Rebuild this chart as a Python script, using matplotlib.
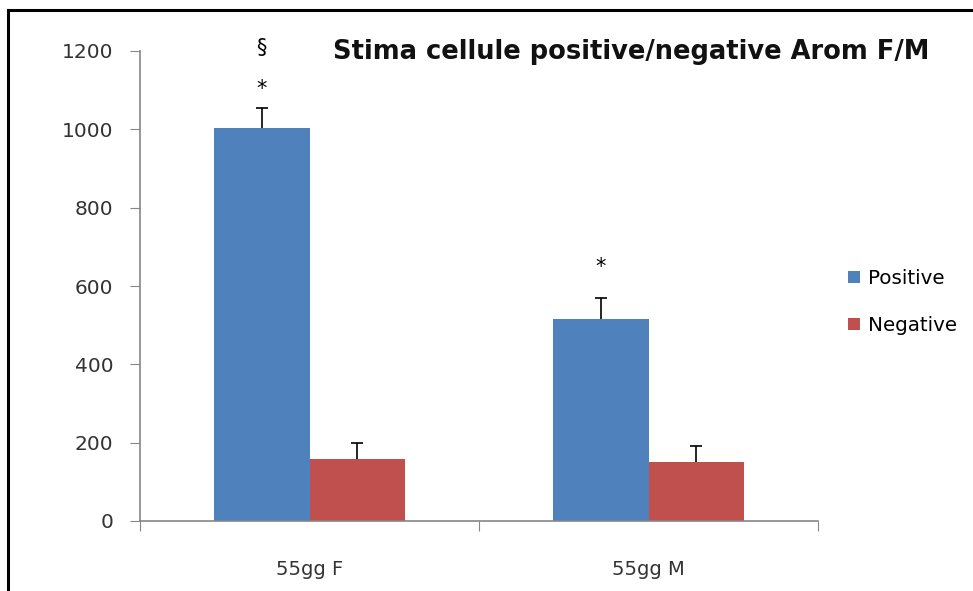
import numpy as np
import matplotlib
matplotlib.use("Agg")
import matplotlib.pyplot as plt
from matplotlib.lines import Line2D

# data
groups = ["55gg F", "55gg M"]
positive = [1004, 517]
negative = [158, 151]
positive_err = [51, 52]
negative_err = [40, 41]
marks = [["§", "*"], ["*"]]

blue = "#4F81BD"
red = "#C0504D"
axis_grey = "#868686"

fig = plt.figure(figsize=(9.73, 5.91), dpi=100)
ax = fig.add_axes([140/973, 1-521/591, (818-140)/973, (521-51)/591])

x = np.arange(len(groups))
w = 0.283

b1 = ax.bar(x - w/2, positive, w, color=blue, label="Positive",
            yerr=[np.zeros(len(x)), positive_err], capsize=4.5,
            error_kw=dict(ecolor="black", elinewidth=1.2, capthick=1.2))
b2 = ax.bar(x + w/2, negative, w, color=red, label="Negative",
            yerr=[np.zeros(len(x)), negative_err], capsize=4.5,
            error_kw=dict(ecolor="black", elinewidth=1.2, capthick=1.2))
# only the upper cap is shown
for b in (b1, b2):
    b.errorbar.lines[1][0].set_visible(False)

# significance marks above the positive bars
for i in range(len(groups)):
    top = positive[i] + positive_err[i]
    if len(marks[i]) == 2:
        ax.text(x[i] - w/2, top + 47, marks[i][1], ha="center", va="center",
                fontsize=15, clip_on=False)
        ax.text(x[i] - w/2, top + 153, marks[i][0], ha="center", va="center",
                fontsize=15, clip_on=False)
    else:
        ax.text(x[i] - w/2, top + 80, marks[i][0], ha="center", va="center",
                fontsize=15, clip_on=False)

ax.set_xlim(-0.5, 1.5)
ax.set_ylim(0, 1200)
ax.set_yticks(np.arange(0, 1201, 200))
ax.set_xticks([-0.5, 0.5, 1.5])
ax.set_xticklabels([])
ax.set_xticks(x, minor=True)
ax.set_xticklabels(groups, minor=True)
ax.tick_params(axis="x", which="minor", length=0, pad=28, labelsize=14, colors="#333333")
ax.tick_params(axis="x", which="major", length=7, color=axis_grey, direction="out")
ax.tick_params(axis="y", length=7, color=axis_grey, labelsize=14.5, labelcolor="#333333", pad=12)

for s in ["top", "right"]:
    ax.spines[s].set_visible(False)
for s in ["left", "bottom"]:
    ax.spines[s].set_color(axis_grey)
    ax.spines[s].set_linewidth(1.2)

fig.text(333/973, 1-52/591, "Stima cellule positive/negative Arom F/M",
         fontsize=18.5, fontweight="bold", va="center", ha="left", color="#111111")

fig.legend(loc="center left", bbox_to_anchor=(830/973, 1-302/591), frameon=False,
           fontsize=14.3, handlelength=0.6, handleheight=0.6, handletextpad=0.4,
           labelspacing=1.4)

# outer frame (left and top edges visible)
fig.add_artist(Line2D([8/973, 8/973], [0, 1-10/591], transform=fig.transFigure,
                      color="black", linewidth=2.2))
fig.add_artist(Line2D([8/973, 1], [1-10/591, 1-10/591], transform=fig.transFigure,
                      color="black", linewidth=2.2))

fig.savefig("out.png", dpi=100)
